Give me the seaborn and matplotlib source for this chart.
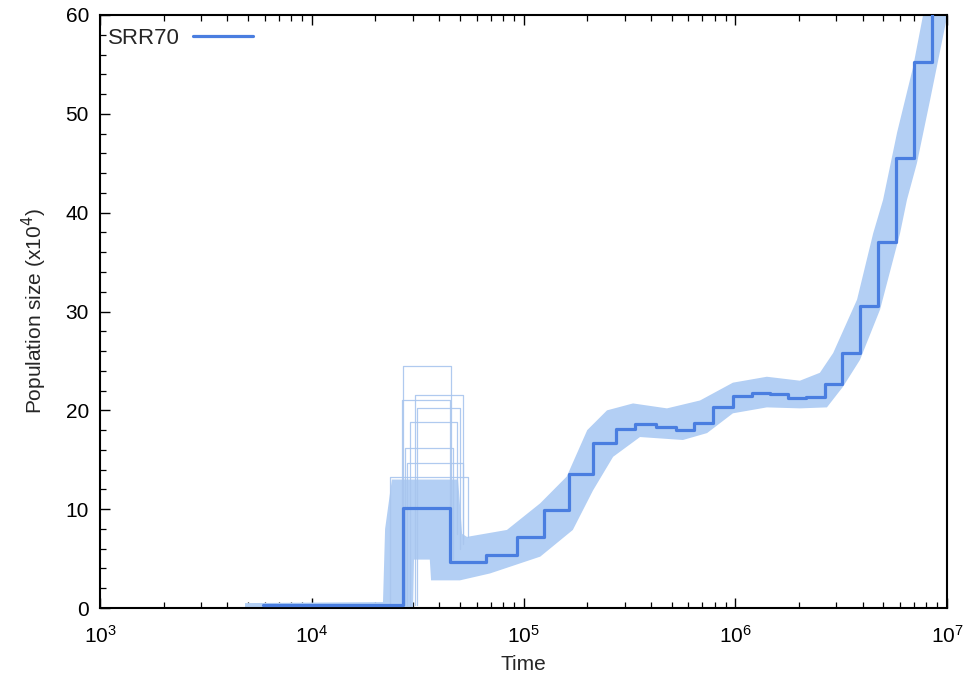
import matplotlib
matplotlib.use("Agg")
import matplotlib.pyplot as plt
import matplotlib.ticker as mticker
import numpy as np
import pandas as pd
import seaborn as sns

# PSMC estimate for SRR70 (step function: interval start time -> population size, x10^4)
psmc_time = [5.9e3, 2.70e4, 4.50e4, 6.65e4, 9.30e4, 1.25e5, 1.64e5, 2.12e5, 2.73e5,
             3.37e5, 4.23e5, 5.23e5, 6.41e5, 7.88e5, 9.73e5, 1.20e6, 1.46e6, 1.78e6,
             2.17e6, 2.65e6, 3.20e6, 3.88e6, 4.74e6, 5.73e6, 6.99e6, 8.47e6, 1.2e7]
psmc_size = [0.3, 10.1, 4.7, 5.4, 7.2, 9.9, 13.6, 16.7, 18.1,
             18.6, 18.35, 18.0, 18.75, 20.3, 21.45, 21.8, 21.7, 21.2,
             21.3, 22.7, 25.8, 30.6, 37.0, 45.5, 55.2, 65.0, 65.0]

# Envelope of the bootstrap replicates
boot_upper_time = [4.84e3, 2.17e4, 2.22e4, 2.39e4, 4.91e4, 5.13e4, 5.41e4, 8.35e4, 1.20e5,
                   1.60e5, 2.00e5, 2.48e5, 3.29e5, 4.76e5, 6.82e5, 9.75e5, 1.41e6, 2.02e6,
                   2.51e6, 2.90e6, 3.76e6, 4.48e6, 4.99e6, 5.81e6, 6.91e6, 7.71e6, 8.77e6]
boot_upper_size = [0.5, 0.6, 8.0, 13.0, 13.0, 7.5, 7.2, 7.9, 10.6,
                   13.3, 18.0, 20.0, 20.7, 20.2, 21.0, 22.8, 23.4, 23.0,
                   23.8, 25.8, 31.2, 37.9, 41.3, 48.1, 54.7, 60.0, 63.0]
boot_lower_time = [4.84e3, 3.01e4, 3.04e4, 3.61e4, 3.66e4, 5.01e4, 6.95e4, 1.20e5, 1.71e5,
                   2.13e5, 2.65e5, 3.55e5, 5.66e5, 7.36e5, 9.75e5, 1.41e6, 2.02e6, 2.71e6,
                   3.23e6, 3.88e6, 4.83e6, 6.00e6, 6.47e6, 7.21e6, 8.32e6, 1.0e7, 1.1e7]
boot_lower_size = [0.05, 0.05, 4.9, 4.9, 2.8, 2.8, 3.5, 5.2, 7.9,
                   11.9, 15.3, 17.3, 17.0, 17.7, 19.7, 20.3, 20.2, 20.3,
                   22.4, 25.1, 30.2, 37.9, 41.3, 45.0, 51.4, 59.8, 63.0]

# Bootstrap replicates with a strong recent peak
spike_start = [2.70e4, 3.07e4, 2.66e4, 3.14e4, 2.91e4, 2.75e4, 2.82e4, 2.34e4]
spike_end = [4.53e4, 5.18e4, 4.50e4, 5.01e4, 4.85e4, 4.64e4, 5.18e4, 5.47e4]
spike_size = [24.5, 21.6, 21.0, 20.2, 18.8, 16.2, 14.7, 13.3]
spike_after = [6.5, 7.0, 5.5, 6.0, 7.5, 5.0, 6.5, 7.2]

main_color = "#4a7ee0"
band_color = "#b3cff4"
rep_color = "#a8c5ee"

sns.set_theme(style="ticks")
plt.rcParams["font.family"] = ["Liberation Sans", "DejaVu Sans"]

fig = plt.figure(figsize=(9.69, 6.78), dpi=100)
ax = fig.add_axes([0.1032, 0.1032, 0.8741, 0.8747])

# bootstrap envelope
poly_t = boot_upper_time + boot_lower_time[::-1]
poly_v = boot_upper_size + boot_lower_size[::-1]
ax.fill(poly_t, poly_v, color=band_color, lw=0, zorder=1)

# individual peaked replicates
for t0, t1, h, after in zip(spike_start, spike_end, spike_size, spike_after):
    ax.plot([t0, t0, t1, t1], [0.3, h, h, after], color=rep_color, lw=0.9,
            alpha=0.9, zorder=2)

df = pd.DataFrame({"time": psmc_time, "size": psmc_size})
sns.lineplot(data=df, x="time", y="size", ax=ax, drawstyle="steps-post",
             color=main_color, lw=2.3, label="SRR70", sort=False,
             estimator=None, zorder=3)

ax.set_xscale("log")
ax.set_xlim(1e3, 1e7)
ax.set_ylim(0, 60)
ax.yaxis.set_major_locator(mticker.MultipleLocator(10))
ax.yaxis.set_minor_locator(mticker.MultipleLocator(2))
ax.xaxis.set_major_locator(mticker.LogLocator(base=10, numticks=10))
ax.xaxis.set_minor_locator(mticker.LogLocator(base=10, subs=np.arange(2, 10), numticks=20))
ax.xaxis.set_minor_formatter(mticker.NullFormatter())

ax.tick_params(axis="both", which="both", direction="in", top=True, right=False,
               colors="black", labelsize=15)
ax.tick_params(axis="y", pad=8)
ax.tick_params(axis="x", pad=12)
ax.tick_params(which="major", length=7, width=1.0)
ax.tick_params(which="minor", length=4, width=0.9)
for s in ax.spines.values():
    s.set_color("black")
    s.set_linewidth(1.5)
ax.grid(False)

ax.set_xlabel("Time", fontsize=15, labelpad=6)
ax.set_ylabel("Population size (x10$^4$)", fontsize=15, labelpad=12)

leg = ax.legend(loc="upper left", bbox_to_anchor=(0.0, 0.992), frameon=False,
                markerfirst=False, fontsize=16, handlelength=2.7,
                borderaxespad=0.0, borderpad=0.35, handletextpad=0.6)

fig.savefig("out.png", dpi=100)
